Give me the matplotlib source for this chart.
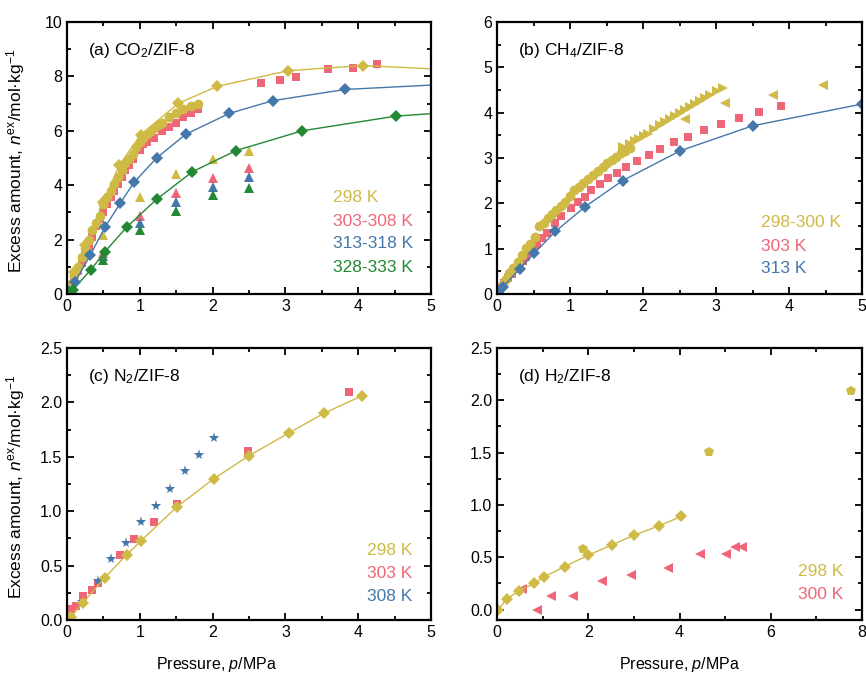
import matplotlib
matplotlib.use("Agg")
import matplotlib.pyplot as plt
from matplotlib.ticker import MultipleLocator, FormatStrFormatter

plt.rcParams['font.family'] = ['Liberation Sans', 'DejaVu Sans']
plt.rcParams['mathtext.fontset'] = 'custom'
plt.rcParams['mathtext.rm'] = 'Liberation Sans'
plt.rcParams['mathtext.it'] = 'Liberation Sans:italic'
plt.rcParams['mathtext.bf'] = 'Liberation Sans:bold'

GOLD = '#CFBA45'
PINK = '#EE6677'
BLUE = '#4477AA'
GREEN = '#228833'

# ---------------- (a) CO2 ----------------
co2_298_circ_p = [0.05, 0.1, 0.15, 0.2, 0.25, 0.3, 0.35, 0.4, 0.45, 0.5, 0.55, 0.6, 0.65, 0.7, 0.75,
                  0.8, 0.85, 0.9, 0.95, 1.0, 1.05, 1.1, 1.15, 1.2, 1.25, 1.3, 1.4, 1.5, 1.6, 1.7, 1.8]
co2_298_circ_n = [0.35, 0.7, 1.0, 1.35, 1.7, 2.0, 2.35, 2.6, 2.85, 3.3, 3.55, 3.8, 4.05, 4.3, 4.55,
                  4.8, 4.95, 5.15, 5.4, 5.6, 5.75, 5.9, 6.0, 6.1, 6.2, 6.3, 6.5, 6.65, 6.8, 6.9, 7.0]
co2_298_dia_p = [0.02, 0.1, 0.25, 0.5, 0.72, 1.01, 1.53, 2.06, 3.04, 4.07]
co2_298_dia_n = [0.15, 0.8, 1.8, 3.4, 4.74, 5.85, 7.01, 7.63, 8.21, 8.40]
co2_298_fit_p = [0.0, 0.1, 0.25, 0.5, 0.72, 1.01, 1.53, 2.06, 3.04, 4.07, 5.0]
co2_298_fit_n = [0.0, 0.8, 1.8, 3.4, 4.74, 5.85, 7.01, 7.63, 8.21, 8.40, 8.28]
co2_298_tri_p = [0.5, 1.0, 1.5, 2.0, 2.5]
co2_298_tri_n = [2.17, 3.58, 4.41, 4.95, 5.27]

co2_303_sq_p = [0.05, 0.1, 0.15, 0.2, 0.25, 0.3, 0.35, 0.4, 0.45, 0.5, 0.55, 0.6, 0.65, 0.7, 0.75,
                0.8, 0.85, 0.9, 1.0, 1.05, 1.1, 1.2, 1.3, 1.4, 1.5, 1.6, 1.7, 1.8,
                2.67, 2.93, 3.14, 3.59, 3.93, 4.26]
co2_303_sq_n = [0.25, 0.55, 0.85, 1.15, 1.5, 1.75, 2.1, 2.5, 2.75, 3.0, 3.3, 3.55, 3.8, 4.05, 4.3,
                4.55, 4.75, 4.95, 5.3, 5.5, 5.6, 5.75, 6.0, 6.15, 6.3, 6.5, 6.65, 6.8,
                7.74, 7.85, 7.99, 8.26, 8.31, 8.46]
co2_303_tri_p = [0.5, 1.0, 1.5, 2.0, 2.5]
co2_303_tri_n = [1.5, 2.85, 3.72, 4.25, 4.65]

co2_313_dia_p = [0.02, 0.11, 0.32, 0.52, 0.73, 0.92, 1.23, 1.63, 2.23, 2.83, 3.82]
co2_313_dia_n = [0.1, 0.45, 1.43, 2.45, 3.33, 4.1, 5.0, 5.87, 6.64, 7.11, 7.52]
co2_313_fit_p = [0.0, 0.11, 0.32, 0.52, 0.73, 0.92, 1.23, 1.63, 2.23, 2.83, 3.82, 5.0]
co2_313_fit_n = [0.0, 0.45, 1.43, 2.45, 3.33, 4.1, 5.0, 5.87, 6.64, 7.11, 7.52, 7.68]
co2_313_tri_p = [0.5, 1.0, 1.5, 2.0, 2.5]
co2_313_tri_n = [1.38, 2.62, 3.39, 3.92, 4.29]

co2_328_dia_p = [0.02, 0.08, 0.33, 0.52, 0.82, 1.23, 1.72, 2.32, 3.23, 4.52]
co2_328_dia_n = [0.05, 0.15, 0.9, 1.55, 2.46, 3.48, 4.49, 5.27, 6.0, 6.54]
co2_328_fit_p = [0.0, 0.08, 0.33, 0.52, 0.82, 1.23, 1.72, 2.32, 3.23, 4.52, 5.0]
co2_328_fit_n = [0.0, 0.15, 0.9, 1.55, 2.46, 3.48, 4.49, 5.27, 6.0, 6.54, 6.63]
co2_328_tri_p = [0.5, 1.0, 1.5, 2.0, 2.5]
co2_328_tri_n = [1.25, 2.35, 3.06, 3.64, 3.89]

# ---------------- (b) CH4 ----------------
ch4_298_circ_p = [0.03, 0.08, 0.12, 0.17, 0.22, 0.29, 0.34, 0.40, 0.45, 0.52, 0.58, 0.64, 0.70, 0.75,
                  0.81, 0.87, 0.93, 1.0, 1.06, 1.12, 1.18, 1.25, 1.32, 1.38, 1.45, 1.51, 1.57,
                  1.63, 1.70, 1.76, 1.82]
ch4_298_circ_n = [0.1, 0.22, 0.33, 0.46, 0.58, 0.71, 0.86, 1.01, 1.1, 1.26, 1.49, 1.57, 1.67, 1.76,
                  1.85, 1.95, 2.04, 2.17, 2.29, 2.37, 2.44, 2.53, 2.63, 2.72, 2.81, 2.88, 2.96,
                  3.03, 3.10, 3.15, 3.21]
ch4_298_rtri_p = [1.73, 1.82, 1.89, 1.95, 2.01, 2.07, 2.15, 2.23, 2.30, 2.37, 2.44, 2.51, 2.58,
                  2.64, 2.71, 2.78, 2.85, 2.92, 3.01, 3.10]
ch4_298_rtri_n = [3.25, 3.31, 3.37, 3.43, 3.48, 3.54, 3.63, 3.73, 3.80, 3.87, 3.93, 3.99, 4.06,
                  4.13, 4.19, 4.25, 4.32, 4.39, 4.48, 4.54]
ch4_300_ltri_p = [2.58, 3.12, 3.78, 4.46]
ch4_300_ltri_n = [3.87, 4.21, 4.40, 4.61]

ch4_303_sq_p = [0.0, 0.05, 0.1, 0.15, 0.2, 0.25, 0.3, 0.35, 0.4, 0.45, 0.5, 0.55, 0.61, 0.68, 0.79,
                0.88, 1.02, 1.11, 1.20, 1.29, 1.41, 1.52, 1.64, 1.77, 1.92, 2.08, 2.23, 2.42,
                2.62, 2.84, 3.07, 3.32, 3.59, 3.89]
ch4_303_sq_n = [0.05, 0.15, 0.25, 0.35, 0.45, 0.55, 0.63, 0.72, 0.82, 0.92, 1.0, 1.1, 1.23, 1.35,
                1.56, 1.71, 1.89, 2.04, 2.15, 2.29, 2.43, 2.55, 2.68, 2.81, 2.93, 3.07, 3.20,
                3.35, 3.47, 3.62, 3.75, 3.88, 4.01, 4.15]

ch4_313_dia_p = [0.02, 0.08, 0.31, 0.51, 0.80, 1.21, 1.72, 2.51, 3.50, 5.0]
ch4_313_dia_n = [0.05, 0.16, 0.55, 0.90, 1.38, 1.93, 2.50, 3.16, 3.71, 4.19]

# ---------------- (c) N2 ----------------
n2_298_dia_p = [0.06, 0.22, 0.52, 0.82, 1.02, 1.51, 2.02, 2.50, 3.05, 3.53, 4.05]
n2_298_dia_n = [0.03, 0.16, 0.39, 0.60, 0.73, 1.04, 1.30, 1.51, 1.72, 1.90, 2.06]
n2_303_sq_p = [0.06, 0.13, 0.22, 0.34, 0.42, 0.73, 0.92, 1.20, 1.51, 2.49, 3.87]
n2_303_sq_n = [0.10, 0.13, 0.22, 0.28, 0.34, 0.60, 0.74, 0.90, 1.07, 1.55, 2.10]
n2_308_star_p = [0.20, 0.42, 0.61, 0.81, 1.01, 1.22, 1.41, 1.62, 1.81, 2.02]
n2_308_star_n = [0.17, 0.36, 0.56, 0.71, 0.90, 1.05, 1.20, 1.37, 1.52, 1.67]

# ---------------- (d) H2 ----------------
h2_298_dia_p = [0.03, 0.21, 0.49, 0.82, 1.02, 1.48, 2.0, 2.53, 3.0, 3.55, 4.04]
h2_298_dia_n = [0.0, 0.10, 0.18, 0.25, 0.31, 0.41, 0.52, 0.62, 0.71, 0.80, 0.89]
h2_298_pent_p = [1.88, 4.65, 7.76]
h2_298_pent_n = [0.58, 1.51, 2.09]
h2_300_ltri_p = [0.54, 0.87, 1.18, 1.67, 2.30, 2.94, 3.74, 4.45, 5.01, 5.22, 5.37]
h2_300_ltri_n = [0.20, 0.0, 0.13, 0.13, 0.27, 0.33, 0.40, 0.53, 0.53, 0.60, 0.60]

W, H = 866, 677
fig = plt.figure(figsize=(W / 100, H / 100), dpi=100)

def rect(x0, x1, y0, y1):
    return [x0 / W, (H - y1) / H, (x1 - x0) / W, (y1 - y0) / H]

axa = fig.add_axes(rect(67, 431, 22, 294))
axb = fig.add_axes(rect(497, 862, 22, 294))
axc = fig.add_axes(rect(67, 431, 348, 620))
axd = fig.add_axes(rect(497, 862, 348, 620))

def style(ax, xmaj, xmin, ymaj, ymin):
    ax.xaxis.set_major_locator(MultipleLocator(xmaj))
    ax.xaxis.set_minor_locator(MultipleLocator(xmin))
    ax.yaxis.set_major_locator(MultipleLocator(ymaj))
    ax.yaxis.set_minor_locator(MultipleLocator(ymin))
    ax.tick_params(which='both', direction='in', top=True, right=True, labelsize=11.5, width=1.3)
    ax.tick_params(which='major', length=5)
    ax.tick_params(which='minor', length=3)
    for s in ax.spines.values():
        s.set_linewidth(1.6)

kw = dict(linestyle='none', markeredgewidth=0)
# (a)
axa.plot(co2_303_sq_p, co2_303_sq_n, 's', color=PINK, ms=5.5, **kw)
axa.plot(co2_298_circ_p, co2_298_circ_n, 'o', color=GOLD, ms=7, **kw)
axa.plot(co2_298_tri_p, co2_298_tri_n, '^', color=GOLD, ms=7.5, **kw)
axa.plot(co2_303_tri_p, co2_303_tri_n, '^', color=PINK, ms=7.5, **kw)
axa.plot(co2_313_tri_p, co2_313_tri_n, '^', color=BLUE, ms=7.5, **kw)
axa.plot(co2_328_tri_p, co2_328_tri_n, '^', color=GREEN, ms=7.5, **kw)
axa.plot(co2_298_fit_p, co2_298_fit_n, '-', color=GOLD, lw=1)
axa.plot(co2_313_fit_p, co2_313_fit_n, '-', color=BLUE, lw=1)
axa.plot(co2_328_fit_p, co2_328_fit_n, '-', color=GREEN, lw=1)
axa.plot(co2_298_dia_p, co2_298_dia_n, 'D', color=GOLD, ms=6.5, **kw)
axa.plot(co2_313_dia_p, co2_313_dia_n, 'D', color=BLUE, ms=6.5, **kw)
axa.plot(co2_328_dia_p, co2_328_dia_n, 'D', color=GREEN, ms=6.5, **kw)
axa.set_xlim(0, 5)
axa.set_ylim(0, 10)
style(axa, 1, 0.5, 2, 1)

# (b)
axb.plot(ch4_303_sq_p, ch4_303_sq_n, 's', color=PINK, ms=5.5, **kw)
axb.plot(ch4_298_circ_p, ch4_298_circ_n, 'o', color=GOLD, ms=7, **kw)
axb.plot(ch4_298_rtri_p, ch4_298_rtri_n, '>', color=GOLD, ms=7.5, **kw)
axb.plot(ch4_300_ltri_p, ch4_300_ltri_n, '<', color=GOLD, ms=7.5, **kw)
axb.plot(ch4_313_dia_p, ch4_313_dia_n, '-', color=BLUE, lw=1)
axb.plot(ch4_313_dia_p, ch4_313_dia_n, 'D', color=BLUE, ms=6.5, **kw)
axb.set_xlim(0, 5)
axb.set_ylim(0, 6)
style(axb, 1, 0.5, 1, 0.5)

# (c)
axc.plot(n2_303_sq_p, n2_303_sq_n, 's', color=PINK, ms=5.5, **kw)
axc.plot(n2_308_star_p, n2_308_star_n, '*', color=BLUE, ms=8, **kw)
axc.plot(n2_298_dia_p, n2_298_dia_n, '-', color=GOLD, lw=1)
axc.plot(n2_298_dia_p, n2_298_dia_n, 'D', color=GOLD, ms=6.5, **kw)
axc.set_xlim(0, 5)
axc.set_ylim(0, 2.5)
style(axc, 1, 0.5, 0.5, 0.25)
axc.yaxis.set_major_formatter(FormatStrFormatter('%.1f'))

# (d)
axd.plot(h2_300_ltri_p, h2_300_ltri_n, '<', color=PINK, ms=7.5, **kw)
axd.plot(h2_298_dia_p, h2_298_dia_n, '-', color=GOLD, lw=1)
axd.plot(h2_298_dia_p, h2_298_dia_n, 'D', color=GOLD, ms=6.5, **kw)
axd.plot(h2_298_pent_p, h2_298_pent_n, 'p', color=GOLD, ms=7.5, **kw)
axd.set_xlim(0, 8)
axd.set_ylim(-0.1, 2.5)
style(axd, 2, 1, 0.5, 0.25)
axd.yaxis.set_major_formatter(FormatStrFormatter('%.1f'))

# Panel titles
tfs = 12.5
axa.text(0.058, 0.897, '(a) CO$_2$/ZIF-8', transform=axa.transAxes, fontsize=tfs, va='center', ha='left')
axb.text(0.058, 0.897, '(b) CH$_4$/ZIF-8', transform=axb.transAxes, fontsize=tfs, va='center', ha='left')
axc.text(0.058, 0.897, '(c) N$_2$/ZIF-8', transform=axc.transAxes, fontsize=tfs, va='center', ha='left')
axd.text(0.058, 0.897, '(d) H$_2$/ZIF-8', transform=axd.transAxes, fontsize=tfs, va='center', ha='left')

# Colored legend texts
def legend_texts(ax, x, ys, labels, colors):
    for y, lab, c in zip(ys, labels, colors):
        ax.text(x, y, lab, transform=ax.transAxes, color=c, fontsize=tfs, ha='left', va='center')

legend_texts(axa, 0.731, [0.353, 0.268, 0.184, 0.099],
             ['298 K', '303-308 K', '313-318 K', '328-333 K'], [GOLD, PINK, BLUE, GREEN])
legend_texts(axb, 0.722, [0.262, 0.176, 0.094],
             ['298-300 K', '303 K', '313 K'], [GOLD, PINK, BLUE])
legend_texts(axc, 0.825, [0.257, 0.172, 0.088],
             ['298 K', '303 K', '308 K'], [GOLD, PINK, BLUE])
legend_texts(axd, 0.826, [0.178, 0.092],
             ['298 K', '300 K'], [GOLD, PINK])

ylab = 'Excess amount, $n^{\\mathrm{ex}}$/mol·kg$^{-1}$'
for ax in (axa, axc):
    ax.set_ylabel(ylab, fontsize=12.5)
    ax.yaxis.set_label_coords(-0.11, 0.49)
axc.set_xlabel('Pressure, $p$/MPa', fontsize=11.5)
axc.xaxis.set_label_coords(0.412, -0.13)
axd.set_xlabel('Pressure, $p$/MPa', fontsize=11.5)
axd.xaxis.set_label_coords(0.5, -0.13)

fig.savefig('out.png', dpi=100)
